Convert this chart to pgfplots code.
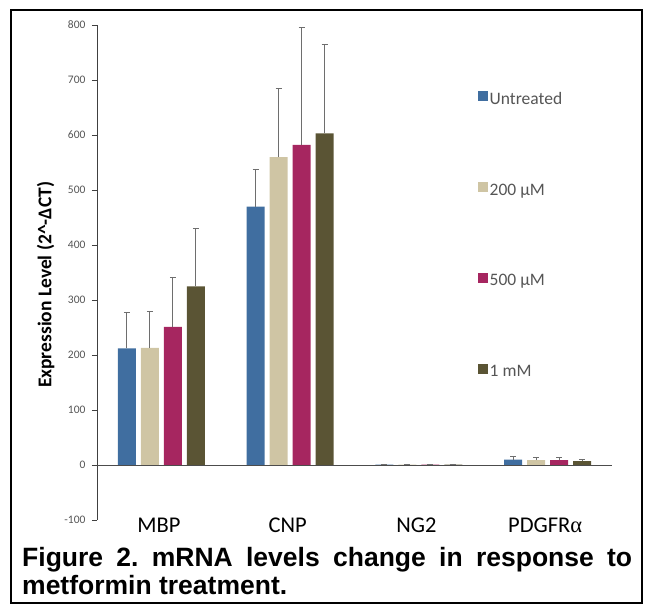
\documentclass[border=0pt]{standalone}
\usepackage{pgfplots}
\pgfplotsset{compat=1.18}
\usepackage{fontspec}
\setmainfont{Carlito}
\newfontfamily\capfont{Liberation Sans}
\newfontfamily\symfont{Liberation Serif}
\definecolor{cUnt}{RGB}{64,110,160}
\definecolor{c200}{RGB}{207,197,164}
\definecolor{c500}{RGB}{166,38,96}
\definecolor{c1mM}{RGB}{90,84,52}
\definecolor{errc}{RGB}{110,110,110}
\definecolor{txtc}{RGB}{85,85,85}
\begin{document}
\begin{tikzpicture}[x=1pt,y=1pt]
\useasboundingbox (0,0) rectangle (645,608);
\draw[line width=2.6pt] (11,5) rectangle (642,598);
\begin{axis}[
  at={(97pt,88pt)}, anchor=south west,
  scale only axis, width=515pt, height=495pt,
  xmin=-0.5, xmax=3.5, ymin=-100, ymax=800,
  axis lines*=left,
  x axis line style={draw=none},
  xtick={0,1,2,3},
  xticklabels={MBP,CNP,NG2,PDGFR{\symfont α}},
  xtick style={draw=none},
  xticklabel style={font=\fontsize{22.5}{24}\selectfont, anchor=center, xshift=-2.5pt},
  y axis line style={black!75, line width=0.9pt, -},
  ytick={-100,0,...,800},
  tick align=outside, major tick length=5pt,
  ytick style={black!75, line width=0.9pt},
  yticklabel style={font=\fontsize{11.5}{12}\selectfont, text=txtc, xshift=-3pt},
  /pgf/number format/assume math mode=true,
  ylabel={\bfseries Expression Level (2\^{}-ΔCT)},
  ylabel style={font=\fontsize{19.5}{22}\selectfont, at={(axis description cs:-0.076,0.475)}},
  ybar=5pt, bar width=18pt,
  legend style={draw=none, fill=none, at={(0.733,0.873)}, anchor=north west,
     font=\fontsize{17.5}{20}\selectfont, text=txtc, row sep=74pt,
     /tikz/every even column/.append style={column sep=3.5pt}},
  legend cell align=left,
  legend image code/.code={\fill[#1, draw=none] (0pt,-2pt) rectangle (10pt,8pt);},
  clip=false,
]
\addplot[fill=cUnt, draw=none, error bars/.cd, y dir=plus, y explicit,
  error bar style={errc, line width=0.8pt}, error mark options={rotate=90, mark size=3pt, errc, line width=0.8pt}]
  table[x=x, y=y, y error=e] {
x y e
0 212 65
1 470 68
2 0.5 0
3 10 5
};
\addplot[fill=c200, draw=none, error bars/.cd, y dir=plus, y explicit,
  error bar style={errc, line width=0.8pt}, error mark options={rotate=90, mark size=3pt, errc, line width=0.8pt}]
  table[x=x, y=y, y error=e] {
x y e
0 213 67
1 560 125
2 0.5 0
3 9 4
};
\addplot[fill=c500, draw=none, error bars/.cd, y dir=plus, y explicit,
  error bar style={errc, line width=0.8pt}, error mark options={rotate=90, mark size=3pt, errc, line width=0.8pt}]
  table[x=x, y=y, y error=e] {
x y e
0 251 90
1 582 213
2 0.5 0
3 9 5
};
\addplot[fill=c1mM, draw=none, error bars/.cd, y dir=plus, y explicit,
  error bar style={errc, line width=0.8pt}, error mark options={rotate=90, mark size=3pt, errc, line width=0.8pt}]
  table[x=x, y=y, y error=e] {
x y e
0 325 105
1 603 162
2 0.5 0
3 7 3
};
\legend{Untreated, 200 μM, 500 μM, 1 mM}
\draw[black!70, line width=1pt] (axis cs:-0.5,0) -- (axis cs:3.5,0);
\end{axis}
\node[anchor=base west, text width=610pt, align=justify, inner sep=0pt,
  font=\capfont\bfseries\fontsize{26.5}{28}\selectfont] at (22,42)
  {\frenchspacing\hyphenpenalty=10000\exhyphenpenalty=10000 Figure 2. mRNA levels change in response to metformin treatment.};
\end{tikzpicture}
\end{document}
